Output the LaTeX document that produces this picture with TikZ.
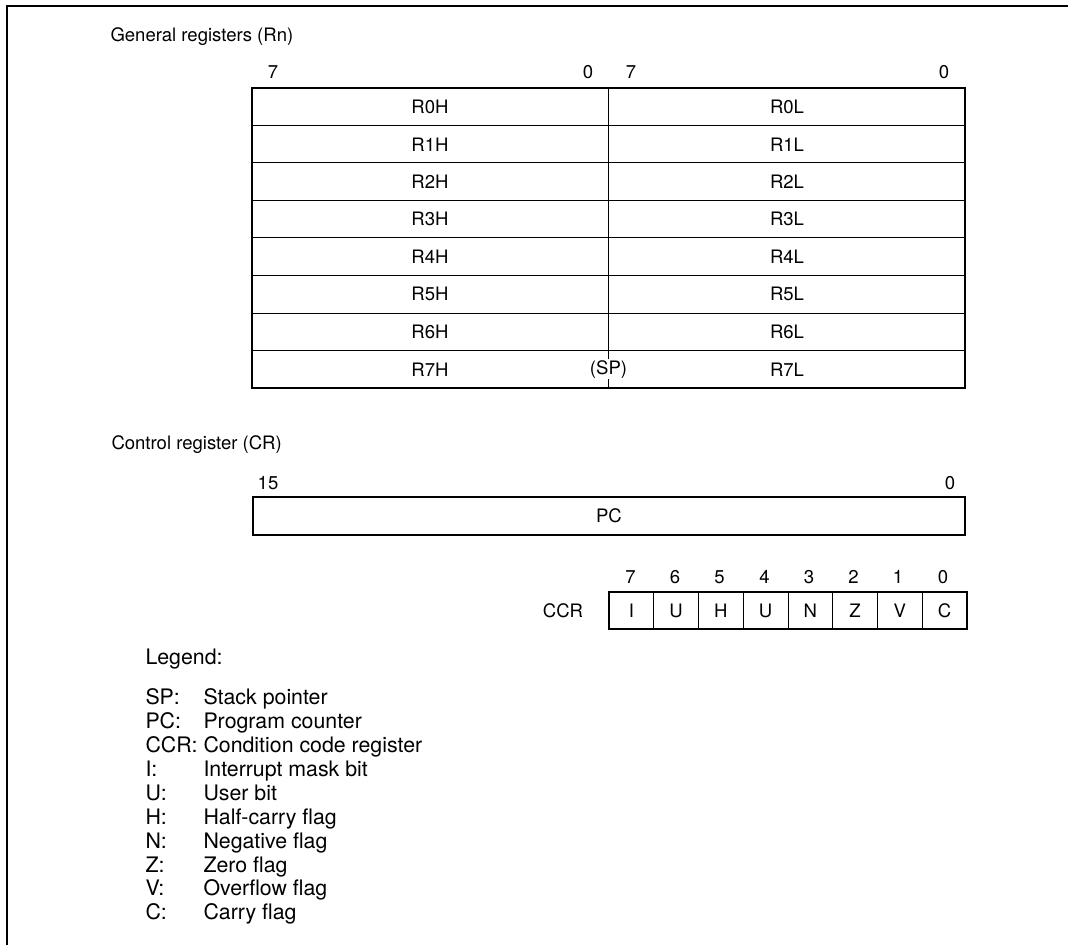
\documentclass[tikz,border=0pt]{standalone}
\usepackage{fontspec}
\setmainfont{TeX Gyre Heros}
\tikzset{every picture/.style={line width=0.75pt}}

\begin{document}
\begin{tikzpicture}[x=0.75pt,y=0.75pt,yscale=-1,xscale=1,
  txt/.style={inner sep=0pt,font=\fontsize{13.9}{16.7}\selectfont},
  lgdtxt/.style={inner sep=0pt,anchor=base west,font=\fontsize{16}{18}\selectfont},
  heavy/.style={line width=1.5pt}]
	\useasboundingbox (0,0) rectangle (1068,945);

	%Straight Lines: page frame
	\draw [heavy] (6.5,945) -- (6.5,6) -- (1068,6) ;

	% Text Node
	\node [txt, anchor=base west] (genttl) at (110,41.7) {General registers (Rn)};
	% Text Node
	\node [txt] (hi7) at (273,72) {7};
	\node [txt] (hi0) at (588,72) {0};
	\node [txt] (lo7) at (631,72) {7};
	\node [txt] (lo0) at (944,72) {0};

	%Shape: Rectangle general registers
	\draw [heavy] (252,88) rectangle (965,388) ;
	%Straight Lines
	\draw (252,125.5) -- (965,125.5) ;
	\draw (252,163) -- (965,163) ;
	\draw (252,200.5) -- (965,200.5) ;
	\draw (252,238) -- (965,238) ;
	\draw (252,275.5) -- (965,275.5) ;
	\draw (252,313) -- (965,313) ;
	\draw (252,350.5) -- (965,350.5) ;
	\draw (608.5,88) -- (608.5,388) ;

	% Text Node
	\node [txt] (r0h) at (430,106.75) {R0H};
	\node [txt] (r0l) at (787,106.75) {R0L};
	\node [txt] (r1h) at (430,144.25) {R1H};
	\node [txt] (r1l) at (787,144.25) {R1L};
	\node [txt] (r2h) at (430,181.75) {R2H};
	\node [txt] (r2l) at (787,181.75) {R2L};
	\node [txt] (r3h) at (430,219.25) {R3H};
	\node [txt] (r3l) at (787,219.25) {R3L};
	\node [txt] (r4h) at (430,256.75) {R4H};
	\node [txt] (r4l) at (787,256.75) {R4L};
	\node [txt] (r5h) at (430,294.25) {R5H};
	\node [txt] (r5l) at (787,294.25) {R5L};
	\node [txt] (r6h) at (430,331.75) {R6H};
	\node [txt] (r6l) at (787,331.75) {R6L};
	\node [txt] (r7h) at (430,369.25) {R7H};
	\node [txt] (r7l) at (787,369.25) {R7L};
	\node [txt, fill=white, inner sep=1pt] (sp) at (608.5,369.25) {(SP)};

	% Text Node
	\node [txt, anchor=base west] (ctlttl) at (111,449.7) {Control register (CR)};
	\node [txt] (pc15) at (268,483) {15};
	\node [txt] (pc0) at (950,483) {0};

	%Shape: Rectangle program counter
	\draw [heavy] (252.5,497) rectangle (965,534.5) ;
	\node [txt] (pc) at (609,516) {PC};

	%Shape: Rectangle condition code register
	\draw [heavy] (609,592) rectangle (967,629) ;
	\draw (653.75,592) -- (653.75,629) ;
	\draw (698.5,592) -- (698.5,629) ;
	\draw (743.25,592) -- (743.25,629) ;
	\draw (788,592) -- (788,629) ;
	\draw (832.75,592) -- (832.75,629) ;
	\draw (877.5,592) -- (877.5,629) ;
	\draw (922.25,592) -- (922.25,629) ;

	% Text Node
	\node [txt] (ccr) at (563,610.5) {CCR};
	\node [txt] (b7) at (630.5,577) {7};
	\node [txt] (b6) at (675,577) {6};
	\node [txt] (b5) at (719.5,577) {5};
	\node [txt] (b4) at (764.5,577) {4};
	\node [txt] (b3) at (809,577) {3};
	\node [txt] (b2) at (853.5,577) {2};
	\node [txt] (b1) at (898,577) {1};
	\node [txt] (b0) at (943,577) {0};
	\node [txt] (fi) at (631.4,610.5) {I};
	\node [txt] (fu1) at (676.1,610.5) {U};
	\node [txt] (fh) at (720.9,610.5) {H};
	\node [txt] (fu2) at (765.6,610.5) {U};
	\node [txt] (fn) at (810.4,610.5) {N};
	\node [txt] (fz) at (855.1,610.5) {Z};
	\node [txt] (fv) at (899.9,610.5) {V};
	\node [txt] (fc) at (944.6,610.5) {C};

	% Text Node: legend
	\node [lgdtxt] (lgd) at (145,664.7) {Legend:};
	\node [lgdtxt] (ksp) at (145,704.7) {SP:};
	\node [lgdtxt] (dsp) at (203,704.7) {Stack pointer};
	\node [lgdtxt] (kpc) at (145,728.6) {PC:};
	\node [lgdtxt] (dpc) at (203,728.6) {Program counter};
	\node [lgdtxt] (kccr) at (145,752.5) {CCR:};
	\node [lgdtxt] (dccr) at (203,752.5) {Condition code register};
	\node [lgdtxt] (ki) at (145,776.4) {I:};
	\node [lgdtxt] (di) at (203,776.4) {Interrupt mask bit};
	\node [lgdtxt] (ku) at (145,800.3) {U:};
	\node [lgdtxt] (du) at (203,800.3) {User bit};
	\node [lgdtxt] (kh) at (145,824.2) {H:};
	\node [lgdtxt] (dh) at (203,824.2) {Half-carry flag};
	\node [lgdtxt] (kn) at (145,848.1) {N:};
	\node [lgdtxt] (dn) at (203,848.1) {Negative flag};
	\node [lgdtxt] (kz) at (145,872) {Z:};
	\node [lgdtxt] (dz) at (203,872) {Zero flag};
	\node [lgdtxt] (kv) at (145,895.9) {V:};
	\node [lgdtxt] (dv) at (203,895.9) {Overflow flag};
	\node [lgdtxt] (kc) at (145,919.8) {C:};
	\node [lgdtxt] (dc) at (203,919.8) {Carry flag};

\end{tikzpicture}
\end{document}
